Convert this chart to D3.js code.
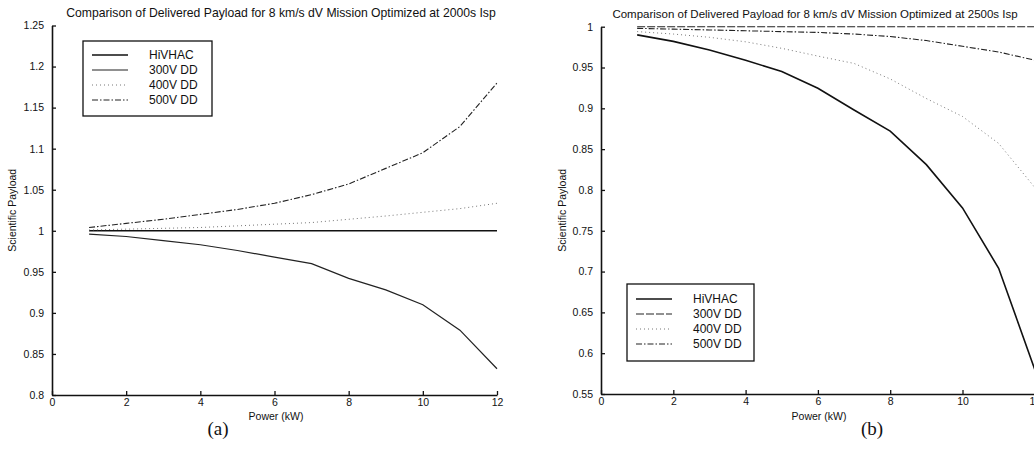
<!DOCTYPE html>
<html>
<head>
<meta charset="utf-8">
<script src="https://cdn.jsdelivr.net/npm/d3@7"></script>
<style>
  html, body { margin: 0; padding: 0; background: #fff; }
  svg { display: block; font-family: "Liberation Sans", Arial, sans-serif; }
</style>
</head>
<body>
<svg id="chart" width="1034" height="459"></svg>
<script>
// power levels (kW) shared by both panels
const power = [1, 2, 3, 4, 5, 6, 7, 8, 9, 10, 11, 12];

// panel (a): optimized at 2000 s Isp
const hivhacA = [1, 1, 1, 1, 1, 1, 1, 1, 1, 1, 1, 1];
const v300A = [0.996, 0.993, 0.988, 0.983, 0.976, 0.968, 0.960, 0.942, 0.928, 0.910, 0.879, 0.832];
const v400A = [1.001, 1.002, 1.003, 1.004, 1.006, 1.008, 1.010, 1.014, 1.018, 1.0225, 1.027, 1.0335];
const v500A = [1.004, 1.009, 1.014, 1.020, 1.026, 1.0335, 1.044, 1.057, 1.076, 1.095, 1.127, 1.180];

// panel (b): optimized at 2500 s Isp
const hivhacB = [0.990, 0.982, 0.9715, 0.959, 0.945, 0.9245, 0.898, 0.872, 0.831, 0.778, 0.704, 0.580];
const v300B = [1, 1, 1, 1, 1, 1, 1, 1, 1, 1, 1, 1];
const v400B = [0.994, 0.991, 0.987, 0.9815, 0.9735, 0.964, 0.955, 0.936, 0.912, 0.890, 0.857, 0.803];
const v500B = [0.998, 0.997, 0.996, 0.995, 0.994, 0.993, 0.991, 0.988, 0.983, 0.976, 0.969, 0.959];

const seriesNames = ['HiVHAC', '300V DD', '400V DD', '500V DD'];

// axis ticks
const xTicks = [0, 2, 4, 6, 8, 10, 12];
const yTicksA = [0.8, 0.85, 0.9, 0.95, 1, 1.05, 1.1, 1.15, 1.2, 1.25];
const yLabelsA = ['0.8', '0.85', '0.9', '0.95', '1', '1.05', '1.1', '1.15', '1.2', '1.25'];
const yTicksB = [0.55, 0.6, 0.65, 0.7, 0.75, 0.8, 0.85, 0.9, 0.95, 1];
const yLabelsB = ['0.55', '0.6', '0.65', '0.7', '0.75', '0.8', '0.85', '0.9', '0.95', '1'];

const svg = d3.select('#chart');

function drawPanel(cfg) {
  const x = d3.scaleLinear().domain([0, 12]).range([cfg.left, cfg.right]);
  const y = d3.scaleLinear().domain(cfg.yDomain).range([cfg.bottom, cfg.top]);
  const g = svg.append('g');

  // title
  g.append('text')
    .attr('x', cfg.titleX).attr('y', cfg.titleY)
    .attr('text-anchor', 'middle')
    .attr('font-size', cfg.titleSize)
    .attr('fill', '#111')
    .text(cfg.title);

  // lines
  const line = d3.line()
    .x((d, i) => x(power[i]))
    .y(d => y(d));

  cfg.series.forEach(s => {
    g.append('path')
      .datum(s.values)
      .attr('fill', 'none')
      .attr('stroke', s.color)
      .attr('stroke-width', s.width)
      .attr('stroke-dasharray', s.dash)
      .attr('d', line);
  });

  // axes, ticks pointing inward
  const xAxis = g.append('g')
    .attr('transform', `translate(0,${cfg.bottom})`)
    .call(d3.axisBottom(x).tickValues(xTicks).tickSize(-4).tickSizeOuter(0).tickPadding(4));
  const yAxis = g.append('g')
    .attr('transform', `translate(${cfg.left},0)`)
    .call(d3.axisLeft(y).tickValues(cfg.yTicks).tickSize(-4).tickSizeOuter(0).tickPadding(8)
      .tickFormat((d, i) => cfg.yLabels[i]));
  [xAxis, yAxis].forEach(a => {
    a.select('.domain').attr('stroke', '#111').attr('stroke-width', 1.6);
    a.selectAll('.tick line').attr('stroke', '#111').attr('stroke-width', 1.3);
    a.selectAll('.tick text').attr('font-size', 10.5).attr('fill', '#111')
      .attr('font-family', '"Liberation Sans", Arial, sans-serif');
  });

  // axis labels
  g.append('text')
    .attr('x', cfg.powerX).attr('y', 420)
    .attr('text-anchor', 'middle')
    .attr('font-size', 10.5)
    .attr('fill', '#111')
    .text('Power (kW)');
  g.append('text')
    .attr('transform', `translate(${cfg.yLabelX},${(cfg.top + cfg.bottom) / 2}) rotate(-90)`)
    .attr('text-anchor', 'middle')
    .attr('font-size', 10.5)
    .attr('fill', '#111')
    .text('Scientific Payload');

  // legend
  const lg = g.append('g').attr('transform', `translate(${cfg.legend.x},${cfg.legend.y})`);
  lg.append('rect')
    .attr('width', cfg.legend.w).attr('height', cfg.legend.h)
    .attr('fill', '#fff').attr('stroke', '#111').attr('stroke-width', 1.3);
  cfg.series.forEach((s, i) => {
    const yy = cfg.legend.first + i * cfg.legend.step;
    lg.append('line')
      .attr('x1', 9).attr('x2', 45).attr('y1', yy).attr('y2', yy)
      .attr('stroke', s.color).attr('stroke-width', s.width)
      .attr('stroke-dasharray', s.dash);
    lg.append('text')
      .attr('x', 66).attr('y', yy + 4)
      .attr('font-size', 12)
      .attr('fill', '#111')
      .text(seriesNames[i]);
  });

  // panel caption
  g.append('text')
    .attr('x', cfg.captionX).attr('y', 435)
    .attr('text-anchor', 'middle')
    .attr('font-family', '"Liberation Serif", "Times New Roman", serif')
    .attr('font-size', 19)
    .attr('fill', '#111')
    .text(cfg.caption);
}

drawPanel({
  title: 'Comparison of Delivered Payload for 8 km/s dV Mission Optimized at 2000s Isp',
  titleX: 281, titleY: 17, titleSize: 12.2,
  left: 52, right: 497, top: 25.5, bottom: 395,
  powerX: 276,
  yDomain: [0.8, 1.25], yTicks: yTicksA, yLabels: yLabelsA,
  yLabelX: 16,
  caption: '(a)', captionX: 218,
  legend: { x: 83, y: 41, w: 129, h: 75, first: 14, step: 15 },
  series: [
    { values: hivhacA, color: '#111', width: 1.6, dash: null },
    { values: v300A, color: '#222', width: 1.2, dash: null },
    { values: v400A, color: '#777', width: 1, dash: '1,3' },
    { values: v500A, color: '#222', width: 1.1, dash: '6,2,1.5,2' }
  ]
});

drawPanel({
  title: 'Comparison of Delivered Payload for 8 km/s dV Mission Optimized at 2500s Isp',
  titleX: 815, titleY: 18, titleSize: 11.5,
  left: 601, right: 1034.8, top: 26.7, bottom: 394,
  powerX: 819,
  yDomain: [0.55, 1], yTicks: yTicksB, yLabels: yLabelsB,
  yLabelX: 566,
  caption: '(b)', captionX: 872,
  legend: { x: 627, y: 284, w: 127, h: 77, first: 15, step: 15 },
  series: [
    { values: hivhacB, color: '#111', width: 1.6, dash: null },
    { values: v300B, color: '#222', width: 1.1, dash: '8,2' },
    { values: v400B, color: '#777', width: 1, dash: '1,3' },
    { values: v500B, color: '#222', width: 1.1, dash: '6,2,1.5,2' }
  ]
});
</script>
</body>
</html>
